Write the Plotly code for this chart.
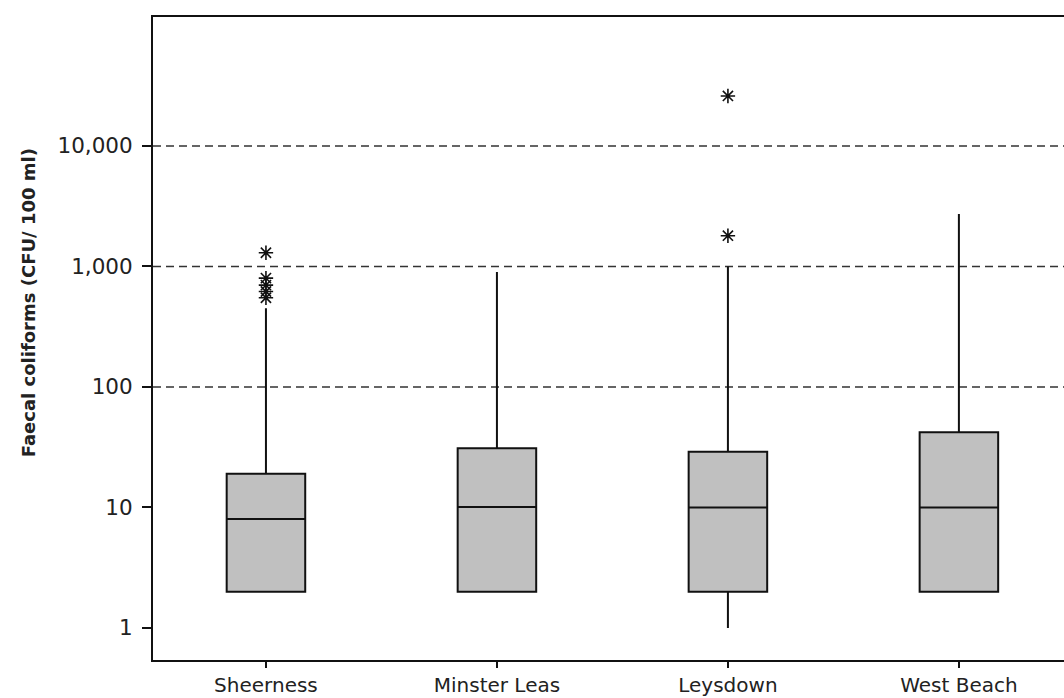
import plotly.graph_objects as go

# Sampling sites
sites = ["Sheerness", "Minster Leas", "Leysdown", "West Beach"]

# Box summaries (CFU/100 ml)
q1 = [2, 2, 2, 2]
medians = [8, 10.1, 10, 10]
q3 = [19, 31, 29, 42]
lower_fence = [2, 2, 1, 2]
upper_fence = [450, 900, 1000, 2730]

# Outlying samples per site
outlier_sites = ["Sheerness"] * 5 + ["Leysdown"] * 2
outlier_values = [1300, 800, 700, 620, 550, 1800, 26000]

# Axis ticks
y_tickvals = [1, 10, 100, 1000, 10000]
y_ticktext = ["1", "10", "100", "1,000", "10,000"]
dashed_levels = [100, 1000, 10000]

fig = go.Figure()

for i, site in enumerate(sites):
    fig.add_trace(go.Box(
        x=[site],
        q1=[q1[i]],
        median=[medians[i]],
        q3=[q3[i]],
        lowerfence=[lower_fence[i]],
        upperfence=[upper_fence[i]],
        boxpoints=False,
        width=0.34,
        whiskerwidth=0,
        fillcolor="#c0c0c0",
        line=dict(color="#111111", width=2),
        showlegend=False,
        hoverinfo="skip",
    ))

fig.add_trace(go.Scatter(
    x=outlier_sites,
    y=outlier_values,
    mode="markers",
    marker=dict(symbol="asterisk-open", size=12, color="#111111",
                line=dict(color="#111111", width=1.6)),
    showlegend=False,
    hoverinfo="skip",
))

for level in dashed_levels:
    fig.add_shape(type="line", xref="paper", yref="y",
                  x0=0, x1=1, y0=level, y1=level,
                  line=dict(color="#333333", width=1.6, dash="8px,5px"),
                  layer="below")

y_tick_font = dict(family="DejaVu Sans", size=21.5, color="#222222")
x_tick_font = dict(family="DejaVu Sans", size=20, color="#222222")

# Y-axis title, placed as a rotated annotation
fig.add_annotation(
    text="<b>Faecal coliforms (CFU/ 100 ml)</b>",
    xref="paper", yref="paper", x=-0.137, y=0.555,
    xanchor="center", yanchor="middle", textangle=-90,
    showarrow=False,
    font=dict(family="DejaVu Sans", size=18, color="#222222"),
)

fig.update_layout(
    width=1064, height=698,
    margin=dict(l=153, r=0, t=17, b=38),
    paper_bgcolor="white",
    plot_bgcolor="white",
    showlegend=False,
    xaxis=dict(
        type="category",
        categoryorder="array",
        categoryarray=sites,
        range=[-0.489, 3.455],
        showline=True, linecolor="#111111", linewidth=2, mirror=True,
        ticks="outside", ticklen=6, tickwidth=1.5, tickcolor="#111111",
        showgrid=False, zeroline=False,
        tickfont=x_tick_font,
        ticklabelstandoff=0,
        automargin=False,
    ),
    yaxis=dict(
        type="log",
        range=[-0.266, 5.07],
        tickvals=y_tickvals, ticktext=y_ticktext,
        showline=True, linecolor="#111111", linewidth=2,
        ticks="outside", ticklen=9, tickwidth=1.5, tickcolor="#111111",
        showgrid=False, zeroline=False,
        tickfont=y_tick_font,
        ticklabelstandoff=5,
        automargin=False,
    ),
)

fig.write_html("out.html")
